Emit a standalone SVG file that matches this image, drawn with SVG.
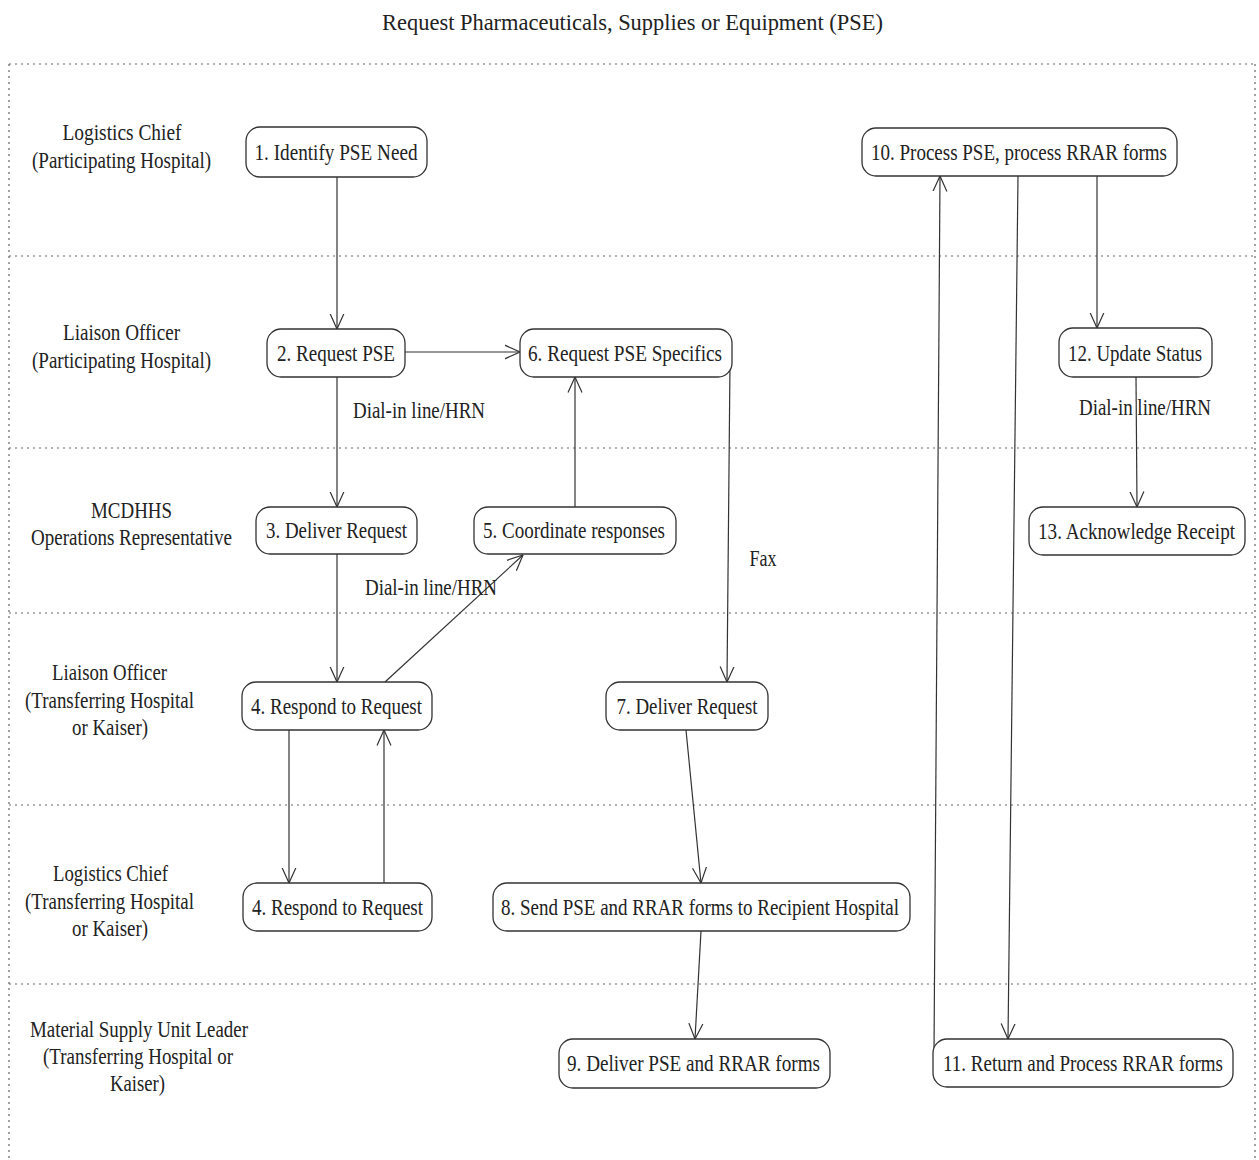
<svg xmlns="http://www.w3.org/2000/svg" width="1259" height="1160" viewBox="0 0 1259 1160">
<style>
text{font-family:"Liberation Serif","Times New Roman",serif;font-size:24px;fill:#222;text-anchor:middle}
.box{fill:#fff;stroke:#333;stroke-width:1.3}
.sep{stroke:#666;stroke-width:1.2;stroke-dasharray:2 4;fill:none}
.con{stroke:#333;stroke-width:1.2;fill:none;marker-end:url(#arr)}
</style>
<defs>
<marker id="arr" viewBox="0 0 16 16" refX="15.5" refY="8" markerWidth="16" markerHeight="16" markerUnits="userSpaceOnUse" orient="auto">
<path d="M0,1 L15.5,8 L0,15" fill="none" stroke="#333" stroke-width="1.2"/>
</marker>
</defs>
<rect width="1259" height="1160" fill="#fff"/>
<text transform="translate(632.5,30) scale(0.8,1)" textLength="626" lengthAdjust="spacingAndGlyphs">Request Pharmaceuticals, Supplies or Equipment (PSE)</text>
<g id="frame">
<path class="sep" d="M9,64 H1255 M9,64 V1160 M1255,64 V1160 M9,256 H1255 M9,448 H1255 M9,613 H1255 M9,805 H1255 M9,984 H1255"/>
</g>
<g id="lanes">
<text transform="translate(122,140) scale(0.8,1)" textLength="148.75" lengthAdjust="spacingAndGlyphs">Logistics Chief</text>
<text transform="translate(121.5,168) scale(0.8,1)" textLength="223.75" lengthAdjust="spacingAndGlyphs">(Participating Hospital)</text>
<text transform="translate(121.5,340) scale(0.8,1)" textLength="146.25" lengthAdjust="spacingAndGlyphs">Liaison Officer</text>
<text transform="translate(121.5,368) scale(0.8,1)" textLength="223.75" lengthAdjust="spacingAndGlyphs">(Participating Hospital)</text>
<text transform="translate(131.5,518) scale(0.8,1)" textLength="101.25" lengthAdjust="spacingAndGlyphs">MCDHHS</text>
<text transform="translate(131.5,545) scale(0.8,1)" textLength="251.25" lengthAdjust="spacingAndGlyphs">Operations Representative</text>
<text transform="translate(109.5,680) scale(0.8,1)" textLength="143.75" lengthAdjust="spacingAndGlyphs">Liaison Officer</text>
<text transform="translate(109.5,708) scale(0.8,1)" textLength="211.25" lengthAdjust="spacingAndGlyphs">(Transferring Hospital</text>
<text transform="translate(110,735) scale(0.8,1)" textLength="95" lengthAdjust="spacingAndGlyphs">or Kaiser)</text>
<text transform="translate(110.5,881) scale(0.8,1)" textLength="143.75" lengthAdjust="spacingAndGlyphs">Logistics Chief</text>
<text transform="translate(109.5,909) scale(0.8,1)" textLength="211.25" lengthAdjust="spacingAndGlyphs">(Transferring Hospital</text>
<text transform="translate(110,936) scale(0.8,1)" textLength="95" lengthAdjust="spacingAndGlyphs">or Kaiser)</text>
<text transform="translate(139,1037) scale(0.8,1)" textLength="272.5" lengthAdjust="spacingAndGlyphs">Material Supply Unit Leader</text>
<text transform="translate(138,1064) scale(0.8,1)" textLength="237.5" lengthAdjust="spacingAndGlyphs">(Transferring Hospital or</text>
<text transform="translate(137.5,1091) scale(0.8,1)" textLength="68.75" lengthAdjust="spacingAndGlyphs">Kaiser)</text>
</g>
<g id="connectors">
<path class="con" d="M337,177 L337,329"/>
<path class="con" d="M405,352 L520,352"/>
<path class="con" d="M337,377 L337,507"/>
<path class="con" d="M337,554 L337,682"/>
<path class="con" d="M385,682 L523,555"/>
<path class="con" d="M575,507 L575,377"/>
<path class="con" d="M730,362 L727,682"/>
<path class="con" d="M686,730 L701,883"/>
<path class="con" d="M701,931 L695,1039"/>
<path class="con" d="M934,1052 L940,176"/>
<path class="con" d="M1018,176 L1008,1039"/>
<path class="con" d="M1097,176 L1097,328"/>
<path class="con" d="M1136,377 L1137,507"/>
<path class="con" d="M289,730 L289,883"/>
<path class="con" d="M384,883 L384,730"/>
<text transform="translate(419,418) scale(0.8,1)" textLength="165" lengthAdjust="spacingAndGlyphs">Dial-in line/HRN</text>
<text transform="translate(431,595) scale(0.8,1)" textLength="165" lengthAdjust="spacingAndGlyphs">Dial-in line/HRN</text>
<text transform="translate(1145,415) scale(0.8,1)" textLength="165" lengthAdjust="spacingAndGlyphs">Dial-in line/HRN</text>
<text transform="translate(763,566) scale(0.8,1)" textLength="33.75" lengthAdjust="spacingAndGlyphs">Fax</text>
</g>
<g id="n1"><rect class="box" x="246" y="127" width="181" height="50" rx="14"/><text transform="translate(336,160) scale(0.8,1)" textLength="203.75" lengthAdjust="spacingAndGlyphs">1. Identify PSE Need</text></g>
<g id="n2"><rect class="box" x="267" y="329" width="138" height="48" rx="14"/><text transform="translate(336,361) scale(0.8,1)" textLength="147.5" lengthAdjust="spacingAndGlyphs">2. Request PSE</text></g>
<g id="n3"><rect class="box" x="256" y="507" width="161" height="47" rx="14"/><text transform="translate(336.5,538) scale(0.8,1)" textLength="176.25" lengthAdjust="spacingAndGlyphs">3. Deliver Request</text></g>
<g id="n4a"><rect class="box" x="242" y="682" width="190" height="48" rx="14"/><text transform="translate(336.5,714) scale(0.8,1)" textLength="213.75" lengthAdjust="spacingAndGlyphs">4. Respond to Request</text></g>
<g id="n4b"><rect class="box" x="243" y="883" width="189" height="48" rx="14"/><text transform="translate(337.5,915) scale(0.8,1)" textLength="213.75" lengthAdjust="spacingAndGlyphs">4. Respond to Request</text></g>
<g id="n5"><rect class="box" x="474" y="507" width="202" height="47" rx="14"/><text transform="translate(574,538) scale(0.8,1)" textLength="227.5" lengthAdjust="spacingAndGlyphs">5. Coordinate responses</text></g>
<g id="n6"><rect class="box" x="520" y="329" width="212" height="48" rx="14"/><text transform="translate(625,361) scale(0.8,1)" textLength="242.5" lengthAdjust="spacingAndGlyphs">6. Request PSE Specifics</text></g>
<g id="n7"><rect class="box" x="606" y="682" width="162" height="48" rx="14"/><text transform="translate(687,714) scale(0.8,1)" textLength="176.25" lengthAdjust="spacingAndGlyphs">7. Deliver Request</text></g>
<g id="n8"><rect class="box" x="493" y="883" width="417" height="48" rx="14"/><text transform="translate(700,915) scale(0.8,1)" textLength="497.5" lengthAdjust="spacingAndGlyphs">8. Send PSE and RRAR forms to Recipient Hospital</text></g>
<g id="n9"><rect class="box" x="559" y="1039" width="271" height="49" rx="14"/><text transform="translate(693.5,1071) scale(0.8,1)" textLength="316.25" lengthAdjust="spacingAndGlyphs">9. Deliver PSE and RRAR forms</text></g>
<g id="n10"><rect class="box" x="862" y="128" width="315" height="48" rx="14"/><text transform="translate(1019,160) scale(0.8,1)" textLength="370" lengthAdjust="spacingAndGlyphs">10. Process PSE, process RRAR forms</text></g>
<g id="n11"><rect class="box" x="933" y="1039" width="300" height="48" rx="14"/><text transform="translate(1083,1071) scale(0.8,1)" textLength="350" lengthAdjust="spacingAndGlyphs">11. Return and Process RRAR forms</text></g>
<g id="n12"><rect class="box" x="1059" y="328" width="153" height="49" rx="14"/><text transform="translate(1135,361) scale(0.8,1)" textLength="167.5" lengthAdjust="spacingAndGlyphs">12. Update Status</text></g>
<g id="n13"><rect class="box" x="1029" y="507" width="216" height="48" rx="14"/><text transform="translate(1136.5,539) scale(0.8,1)" textLength="246.25" lengthAdjust="spacingAndGlyphs">13. Acknowledge Receipt</text></g>
</svg>
